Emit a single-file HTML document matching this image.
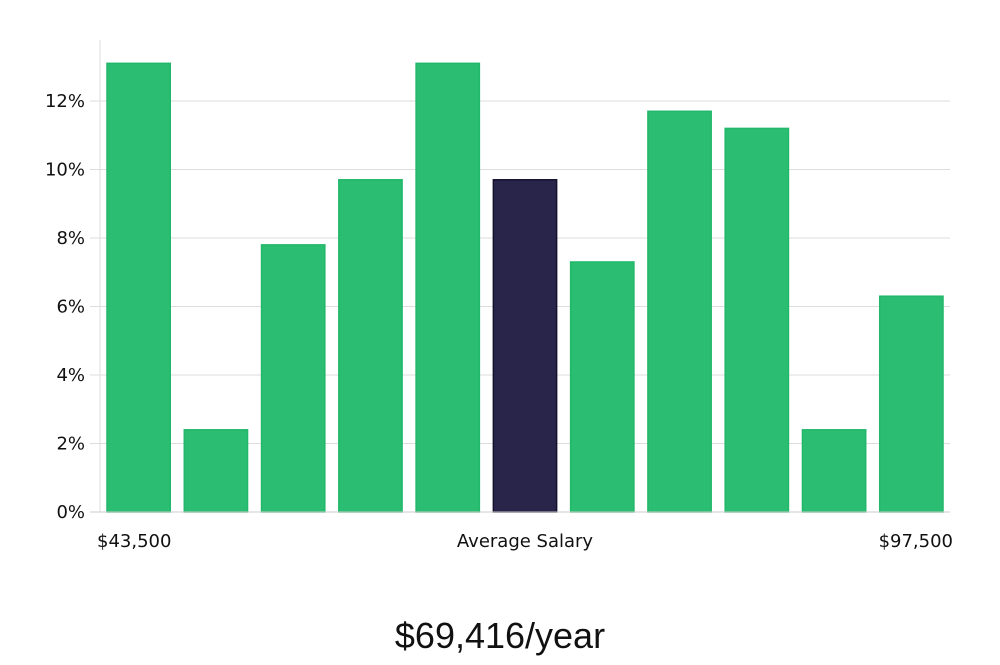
<!DOCTYPE html>
<html><head><meta charset="utf-8"><style>
body{margin:0;background:#fff;width:1000px;height:660px;overflow:hidden}
svg text{font-family:"DejaVu Sans","Liberation Sans",sans-serif;fill:#111}
</style></head><body>
<svg width="1000" height="660">
<g id="grid"></g><g id="bars"></g><g id="yt"></g>
<line x1="100" y1="40" x2="100" y2="512" stroke="#ddd"/>
<line x1="90" y1="512" x2="950" y2="512" stroke="#ccc"/>
<text x="97" y="547" font-size="18">$43,500</text>
<text x="525" y="547" font-size="18" text-anchor="middle">Average Salary</text>
<text x="953" y="547" font-size="18" text-anchor="end">$97,500</text>
<text x="500" y="648" font-size="36" text-anchor="middle" style="font-family:'Liberation Sans',sans-serif;font-weight:300">$69,416/year</text>
</svg>
<script>
const values=[13.1,2.4,7.8,9.7,13.1,9.7,7.3,11.7,11.2,2.4,6.3];
const highlight=[false,false,false,false,false,true,false,false,false,false,false];
const yTicks=[0,2,4,6,8,10,12];
const ns="http://www.w3.org/2000/svg";
const x0=100,x1=950,yBase=512,pxPer=34.25;
const bw=(x1-x0)/values.length;
const y=v=>yBase-v*pxPer;
const grid=document.getElementById('grid'),bars=document.getElementById('bars'),yt=document.getElementById('yt');
yTicks.forEach(t=>{
 if(t>0){const l=document.createElementNS(ns,'line');
 l.setAttribute('x1',90);l.setAttribute('x2',950);l.setAttribute('y1',y(t));l.setAttribute('y2',y(t));l.setAttribute('stroke','#ddd');
 
 grid.appendChild(l);}
 const tx=document.createElementNS(ns,'text');
 tx.setAttribute('x',85);tx.setAttribute('y',y(t)+6);tx.setAttribute('text-anchor','end');tx.setAttribute('font-size','18');
 tx.textContent=t+'%';
 
 yt.appendChild(tx);
});
values.forEach((v,i)=>{
 const r=document.createElementNS(ns,'rect');
 r.setAttribute('x',x0+i*bw+7);r.setAttribute('width',bw-14);
 r.setAttribute('y',y(v));r.setAttribute('height',v*pxPer);
 r.setAttribute('fill',highlight[i]?'#29254a':'#2bbd72');
 r.setAttribute('stroke',highlight[i]?'#14112e':'#22b86a');r.setAttribute('stroke-width','1.5');
 
 bars.appendChild(r);
});
</script>
</body></html>
